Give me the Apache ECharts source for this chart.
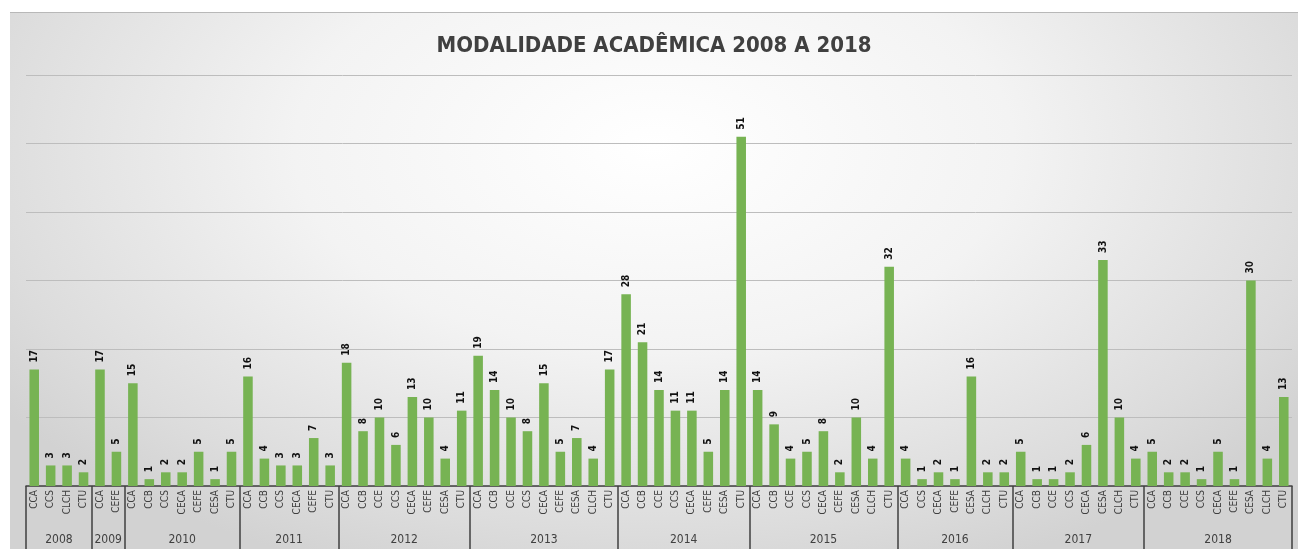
<!DOCTYPE html>
<html>
<head>
<meta charset="utf-8">
<script src="https://cdn.jsdelivr.net/npm/echarts@6/dist/echarts.min.js"></script>
<style>
html,body{margin:0;padding:0;background:#ffffff;width:1298px;height:549px;overflow:hidden;}
#chart{position:absolute;left:10px;top:12px;width:1288px;height:537px;
  border-top:1px solid #b8b8b8;box-sizing:border-box;
  background:radial-gradient(ellipse 62% 85% at 50% 25%, #ffffff 0%, #f3f3f3 45%, #dcdcdc 85%, #d2d2d2 100%);}
</style>
</head>
<body>
<div id="chart"></div>
<script>
const titleText = 'MODALIDADE ACADÊMICA 2008 A 2018';
const years = ['2008','2009','2010','2011','2012','2013','2014','2015','2016','2017','2018'];
const groupSizes = [4, 2, 7, 6, 8, 9, 8, 9, 7, 8, 9];
const categories = [
  'CCA','CCS','CLCH','CTU',
  'CCA','CEFE',
  'CCA','CCB','CCS','CECA','CEFE','CESA','CTU',
  'CCA','CCB','CCS','CECA','CEFE','CTU',
  'CCA','CCB','CCE','CCS','CECA','CEFE','CESA','CTU',
  'CCA','CCB','CCE','CCS','CECA','CEFE','CESA','CLCH','CTU',
  'CCA','CCB','CCE','CCS','CECA','CEFE','CESA','CTU',
  'CCA','CCB','CCE','CCS','CECA','CEFE','CESA','CLCH','CTU',
  'CCA','CCS','CECA','CEFE','CESA','CLCH','CTU',
  'CCA','CCB','CCE','CCS','CECA','CESA','CLCH','CTU',
  'CCA','CCB','CCE','CCS','CECA','CEFE','CESA','CLCH','CTU'
];
const values = [
  17,3,3,2,
  17,5,
  15,1,2,2,5,1,5,
  16,4,3,3,7,3,
  18,8,10,6,13,10,4,11,
  19,14,10,8,15,5,7,4,17,
  28,21,14,11,11,5,14,51,
  14,9,4,5,8,2,10,4,32,
  4,1,2,1,16,2,2,
  5,1,1,2,6,33,10,4,
  5,2,2,1,5,1,30,4,13
];

const boundaries = [0];
groupSizes.forEach(n => boundaries.push(boundaries[boundaries.length-1] + n));
const midpoints = groupSizes.map((n, i) => boundaries[i] + n / 2);
const total = boundaries[boundaries.length-1];
const FONT = "'DejaVu Sans Condensed', 'Liberation Sans', 'Noto Sans', sans-serif";

const chart = echarts.init(document.getElementById('chart'));
chart.setOption({
  animation: false,
  backgroundColor: 'transparent',
  title: {
    text: titleText, left: 'center', top: 17,
    textStyle: {fontFamily: FONT, fontWeight: 'bold', fontSize: 22, color: '#404040'}
  },
  grid: {left: 16, right: 6, top: 62, bottom: 63},
  xAxis: [
    {
      type: 'category', data: categories,
      axisLine: {lineStyle: {color: '#404040', width: 1.5}},
      axisTick: {show: false},
      axisLabel: {interval: 0, rotate: 90, margin: 4, fontSize: 10, fontFamily: FONT, color: '#404040'}
    },
    {
      type: 'value', min: 0, max: total, position: 'bottom',
      axisLine: {show: false},
      splitLine: {show: false},
      axisTick: {show: true, customValues: boundaries, length: 70, lineStyle: {color: '#404040', width: 1.5}},
      axisLabel: {
        show: true, customValues: midpoints, margin: 48, fontSize: 12,
        fontFamily: FONT, color: '#404040',
        formatter: v => { const i = midpoints.indexOf(v); return i >= 0 ? years[i] : ''; }
      }
    }
  ],
  yAxis: {
    type: 'value', min: 0, max: 60, interval: 10,
    axisLabel: {show: false}, axisLine: {show: false}, axisTick: {show: false},
    splitLine: {lineStyle: {color: '#bdbdbd', width: 1}}
  },
  series: [{
    type: 'bar', data: values, xAxisIndex: 0, barWidth: '58%',
    itemStyle: {color: '#77b353'},
    label: {
      show: true, position: 'top', rotate: 90, align: 'left', verticalAlign: 'middle', distance: 7,
      fontSize: 10, fontWeight: 'bold', fontFamily: FONT, color: '#111111'
    }
  }]
});
</script>
</body>
</html>
